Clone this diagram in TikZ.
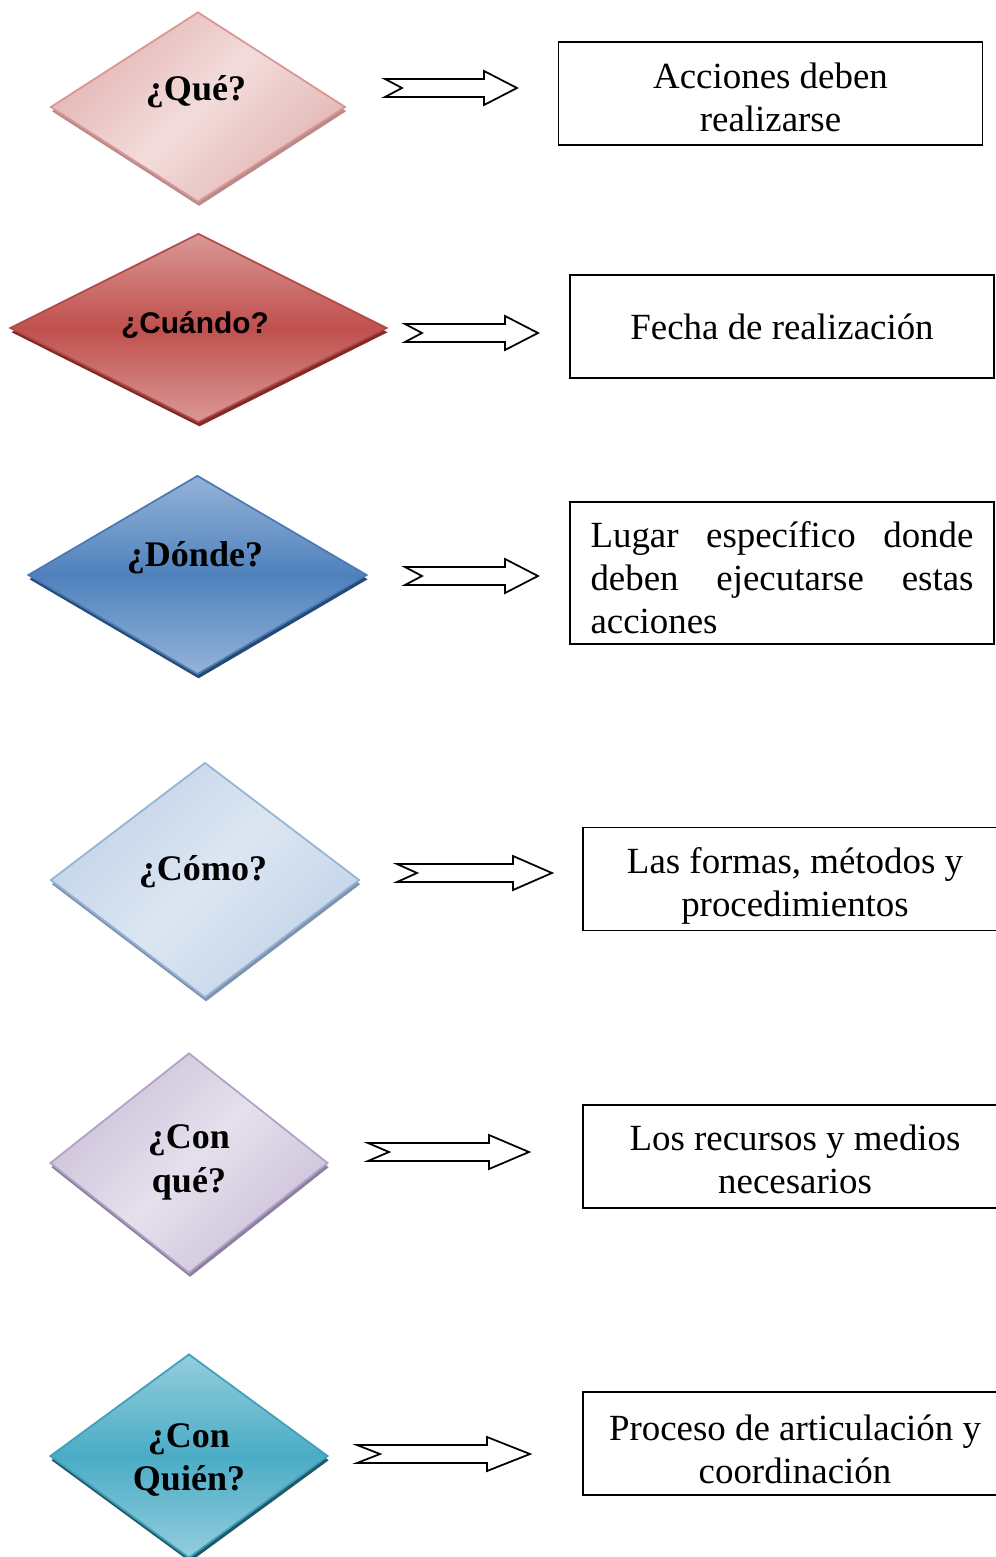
\documentclass[tikz,border=0pt]{standalone}
\usepackage{fontspec}
\setmainfont{Liberation Serif}
\newfontfamily\arialfont{Liberation Sans}
\usetikzlibrary{shapes.geometric,shadows}

\definecolor{rosaM}{HTML}{F2DCDB}
\definecolor{rosaE}{HTML}{E3B5B4}
\definecolor{rosaB}{HTML}{D99694}
\definecolor{rosaS}{HTML}{B88A89}
\definecolor{rojoM}{HTML}{C0504D}
\definecolor{rojoE}{HTML}{DA9896}
\definecolor{rojoB}{HTML}{B24A47}
\definecolor{rojoS}{HTML}{7F2B29}
\definecolor{azulM}{HTML}{4F81BD}
\definecolor{azulE}{HTML}{95B3D7}
\definecolor{azulB}{HTML}{4A7AB5}
\definecolor{azulS}{HTML}{244A75}
\definecolor{celesteM}{HTML}{DCE6F2}
\definecolor{celesteE}{HTML}{C3D3E9}
\definecolor{celesteB}{HTML}{95B3D7}
\definecolor{celesteS}{HTML}{8093AD}
\definecolor{lilaM}{HTML}{E5E0EC}
\definecolor{lilaE}{HTML}{CCC1DA}
\definecolor{lilaB}{HTML}{B2A1C7}
\definecolor{lilaS}{HTML}{8C7FA0}
\definecolor{turqM}{HTML}{4BACC6}
\definecolor{turqE}{HTML}{93CDDD}
\definecolor{turqB}{HTML}{3FA0BA}
\definecolor{turqS}{HTML}{215968}

% block arrow: tail x, tip x, y, head length, notch depth
\newcommand{\flecha}[5]{%
  \draw[line width=1pt, fill=white] (#1,#3-9) -- (#2-#4,#3-9) -- (#2-#4,#3-17) -- (#2,#3)
    -- (#2-#4,#3+17) -- (#2-#4,#3+9) -- (#1,#3+9) -- (#1+#5,#3) -- cycle;}

\begin{document}
\begin{tikzpicture}[x=0.02cm, y=-0.02cm,
rombo/.style={diamond, draw, line width=1pt, inner sep=0pt},
sombra/.style={drop shadow={shadow xshift=0.6pt, shadow yshift=-2.4pt, fill=#1, opacity=1}},
caja/.style={rectangle, draw=black, line width=1pt, minimum width=8.48cm, minimum height=2.06cm, align=center, font=\fontsize{21}{24.4}\selectfont},
pregunta/.style={font=\fontsize{20.5}{25}\selectfont\bfseries, align=center}
]
\useasboundingbox (0,0) rectangle (995,1557);
%Diamonds
\node[rombo, draw=rosaB, top color=rosaE, bottom color=rosaE, middle color=rosaM, shading angle=45, sombra=rosaS,
      minimum width=5.9cm, minimum height=3.8cm]     (que)      at (198,107)  {};
\node[rombo, draw=rojoB, top color=rojoE, bottom color=rojoE, middle color=rojoM, sombra=rojoS,
      minimum width=7.54cm, minimum height=3.78cm]   (cuando)   at (198.5,328) {};
\node[rombo, draw=azulB, top color=azulE, bottom color=azulE, middle color=azulM, sombra=azulS,
      minimum width=6.78cm, minimum height=3.98cm]   (donde)    at (197.5,575) {};
\node[rombo, draw=celesteB, top color=celesteE, bottom color=celesteE, middle color=celesteM, shading angle=45, sombra=celesteS,
      minimum width=6.18cm, minimum height=4.7cm]    (como)     at (205,880)  {};
\node[rombo, draw=lilaB, top color=lilaE, bottom color=lilaE, middle color=lilaM, shading angle=45, sombra=lilaS,
      minimum width=5.56cm, minimum height=4.4cm]    (conque)   at (189,1163) {};
\node[rombo, draw=turqB, top color=turqE, bottom color=turqE, middle color=turqM, sombra=turqS,
      minimum width=5.56cm, minimum height=4.08cm]   (conquien) at (189,1456) {};
%Labels
\node[pregunta, anchor=base] (que-t)    at (196,101)  {¿Qué?};
\node[pregunta, anchor=base, font=\arialfont\fontsize{17}{20}\selectfont\bfseries]
                             (cuando-t) at (195,334)  {¿Cuándo?};
\node[pregunta, anchor=base] (donde-t)  at (195,566)  {¿Dónde?};
\node[pregunta, anchor=base] (como-t)   at (203,880)  {¿Cómo?};
\node[pregunta]              (conque-t) at (189,1162) {¿Con\\qué?};
\node[pregunta]              (conquien-t) at (189,1460) {¿Con\\Quién?};
%Boxes
\node[caja, text height=43.3pt] (b1) at (770.5,93.5) {Acciones deben\\realizarse};
\node[caja]                     (b2) at (782,326.5)  {Fecha de realización};
\node[caja, minimum height=2.84cm, text width=7.66cm, inner xsep=0.41cm, align=justify, text height=20pt]
                                (b3) at (782,573)    {Lugar específico donde\linebreak deben ejecutarse estas\linebreak acciones};
\node[caja, text height=46.7pt] (b4) at (795,879)    {Las formas, métodos y\\procedimientos};
\node[caja, text height=42.1pt] (b5) at (795,1156.5) {Los recursos y medios\\necesarios};
\node[caja, text height=45.5pt] (b6) at (795,1443.5) {Proceso de articulación y\\coordinación};
%Arrows
\flecha{385}{517}{88}{33}{17}
\flecha{405}{538}{333}{33}{17}
\flecha{405}{538}{576}{33}{17}
\flecha{397}{552}{873}{39}{20}
\flecha{368}{529}{1152}{40}{21}
\flecha{357}{530}{1454}{43}{23}
\end{tikzpicture}
\end{document}
